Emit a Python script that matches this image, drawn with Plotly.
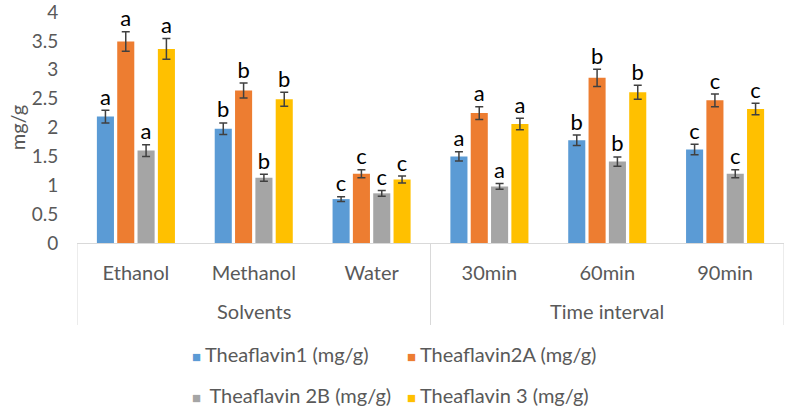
import plotly.graph_objects as go

conditions = ["Ethanol", "Methanol", "Water", "30min", "60min", "90min"]
group_names = ["Solvents", "Time interval"]
group_sizes = [3, 3]

series_names = [
    "Theaflavin1 (mg/g)",
    "Theaflavin2A (mg/g)",
    " Theaflavin 2B (mg/g)",
    "Theaflavin 3 (mg/g)",
]
colors = ["#5b9bd5", "#ed7d31", "#a5a5a5", "#ffc000"]

tf1 = [2.19, 1.98, 0.76, 1.50, 1.78, 1.62]
tf2a = [3.49, 2.64, 1.20, 2.25, 2.86, 2.47]
tf2b = [1.60, 1.13, 0.86, 0.98, 1.41, 1.20]
tf3 = [3.36, 2.49, 1.10, 2.06, 2.61, 2.32]

tf1_err = [0.11, 0.10, 0.04, 0.08, 0.09, 0.09]
tf2a_err = [0.17, 0.13, 0.07, 0.11, 0.15, 0.11]
tf2b_err = [0.10, 0.06, 0.05, 0.05, 0.08, 0.07]
tf3_err = [0.18, 0.12, 0.06, 0.10, 0.12, 0.10]

tf1_sig = ["a", "b", "c", "a", "b", "c"]
tf2a_sig = ["a", "b", "c", "a", "b", "c"]
tf2b_sig = ["a", "b", "c", "a", "b", "c"]
tf3_sig = ["a", "b", "c", "a", "b", "c"]

values = [tf1, tf2a, tf2b, tf3]
errors = [tf1_err, tf2a_err, tf2b_err, tf3_err]
letters = [tf1_sig, tf2a_sig, tf2b_sig, tf3_sig]

font = "Lato, 'Open Sans', sans-serif"
grey_text = "#595959"
line_grey = "#d9d9d9"

fig = go.Figure()

for i, name in enumerate(series_names):
    fig.add_trace(go.Bar(
        x=conditions,
        y=values[i],
        name=name,
        marker=dict(color=colors[i], line=dict(width=0)),
        error_y=dict(type="data", array=errors[i], color="#404040",
                     thickness=1.5, width=4),
        offsetgroup=str(i),
        showlegend=False,
    ))

# significance letters above each error bar
for i in range(4):
    fig.add_trace(go.Scatter(
        x=conditions,
        y=[v + e for v, e in zip(values[i], errors[i])],
        mode="text",
        text=letters[i],
        textposition="top center",
        textfont=dict(size=22, color="#000000", family=font),
        offsetgroup=str(i),
        showlegend=False,
        hoverinfo="skip",
    ))

# group labels and divider lines under the category axis
edges = [-0.5]
for n in group_sizes:
    edges.append(edges[-1] + n)
for k, g in enumerate(group_names):
    fig.add_annotation(
        x=(edges[k] + edges[k + 1]) / 2, y=-0.294, xref="x", yref="paper",
        yanchor="middle", text=g, showarrow=False,
        font=dict(size=20, color=grey_text, family=font),
    )
for e in edges:
    fig.add_shape(type="line", xref="x", yref="paper",
                  x0=e, x1=e, y0=0, y1=-0.355,
                  line=dict(color=line_grey, width=1))

# legend drawn as text entries with square markers, two rows
legend_rows = [[0, 1], [2, 3]]
for r, row in enumerate(legend_rows):
    for c, idx in enumerate(row):
        fig.add_annotation(
            x=0.16 if c == 0 else 0.464, xanchor="left",
            xref="paper", yref="paper", y=-0.48 - 0.178 * r, yanchor="middle",
            text=f"<span style='color:{colors[idx]};font-size:15px'>■ </span>{series_names[idx]}",
            showarrow=False, font=dict(size=20, color=grey_text, family=font),
        )

fig.update_layout(
    width=787,
    height=407,
    barmode="group",
    scattermode="group",
    bargap=0.31,
    bargroupgap=0.16,
    scattergap=0.31,
    plot_bgcolor="white",
    paper_bgcolor="white",
    margin=dict(l=77, r=3, t=12, b=164),
    font=dict(family=font, color=grey_text, size=20),
    showlegend=False,
)

fig.update_yaxes(
    range=[0, 4.0],
    dtick=0.5,
    showgrid=False,
    zeroline=False,
    showline=False,
    automargin=False,
    ticklabeloverflow="allow",
    ticks="outside",
    ticklen=14,
    tickcolor="rgba(0,0,0,0)",
    tickfont=dict(size=19, color=grey_text),
    title=dict(text="mg/g", font=dict(size=20, color=grey_text), standoff=0),
)

fig.update_xaxes(
    type="category",
    range=[-0.5, 5.5],
    showline=True,
    linecolor=line_grey,
    linewidth=1,
    ticks="",
    automargin=False,
    tickfont=dict(size=20, color=grey_text),
    ticklabelstandoff=12,
)

fig.write_html("out.html", config={"displayModeBar": False},
               post_script="document.body.style.margin='0';")
